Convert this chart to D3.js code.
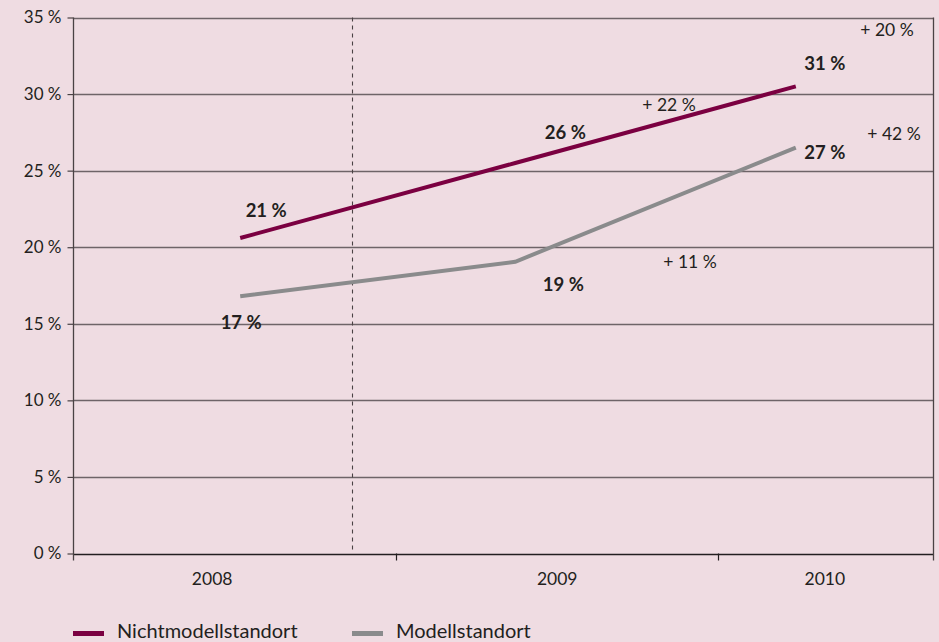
<!DOCTYPE html>
<html>
<head>
<meta charset="utf-8">
<script src="https://cdn.jsdelivr.net/npm/d3@7"></script>
<style>
  html, body { margin: 0; padding: 0; background: #efdce2; }
  svg { display: block; }
  text { font-family: Lato, "Open Sans", sans-serif; fill: #231f20; }
</style>
</head>
<body>
<svg id="chart" width="939" height="642"></svg>
<script>
// ---- data ----
const years = ["2008", "2009", "2010"];
const nichtModell = [20.6, 25.5, 30.5];
const modell = [16.8, 19.05, 26.5];
const nichtModellLabels = ["21 %", "26 %", "31 %"];
const modellLabels = ["17 %", "19 %", "27 %"];
const changeLabels = ["+ 22 %", "+ 20 %", "+ 11 %", "+ 42 %"];
const yTicks = [0, 5, 10, 15, 20, 25, 30, 35];
const seriesNames = ["Nichtmodellstandort", "Modellstandort"];

(function () {
// ---- layout ----
const pLeft = 73.5, pRight = 933.5, pTop = 17.5, pBottom = 553.5;
const colors = ["#7b0041", "#8a8b8c"];
const svg = d3.select("#chart");

// x: continuous "slot" scale, one slot per year (last slot truncated)
const x = d3.scaleLinear().domain([0, 2.667]).range([pLeft, pRight]);
const pointPos = [0.517, 1.37, 2.24];   // where line vertices sit within slots
const labelPos = [0.43, 1.5, 2.33];     // year label positions
const y = d3.scaleLinear().domain([0, 35]).range([pBottom, pTop]);

// gridlines
svg.append("g")
  .selectAll("line").data(yTicks).join("line")
  .attr("x1", pLeft).attr("x2", pRight)
  .attr("y1", d => Math.round(y(d)) + 0.5).attr("y2", d => Math.round(y(d)) + 0.5)
  .attr("stroke", d => d === 0 ? "#231f20" : "#6e6468")
  .attr("stroke-width", 1.3);

// y axis
const yAxis = svg.append("g").attr("transform", `translate(${pLeft},0)`)
  .call(d3.axisLeft(y).tickValues(yTicks).tickSize(6).tickPadding(6)
    .tickFormat(d => d + " %"));
yAxis.select(".domain").remove();
yAxis.selectAll(".tick line").attr("stroke", "#4a4244").attr("stroke-width", 1.2);
yAxis.selectAll(".tick text").attr("font-size", 17).attr("font-family", "Lato, sans-serif").attr("fill", "#231f20");

// left and right vertical frame lines
svg.append("line").attr("x1", pLeft).attr("x2", pLeft).attr("y1", pTop).attr("y2", pBottom + 7)
  .attr("stroke", "#4a4244").attr("stroke-width", 1.3);
svg.append("line").attr("x1", pRight).attr("x2", pRight).attr("y1", pTop).attr("y2", pBottom + 7)
  .attr("stroke", "#4a4244").attr("stroke-width", 1.3);

// x tick marks between year slots
svg.append("g").selectAll("line").data([1, 2]).join("line")
  .attr("x1", d => Math.round(x(d)) + 0.5).attr("x2", d => Math.round(x(d)) + 0.5)
  .attr("y1", pBottom).attr("y2", pBottom + 7)
  .attr("stroke", "#231f20").attr("stroke-width", 1.2);

// year labels
svg.append("g").selectAll("text").data(years).join("text")
  .attr("x", (d, i) => x(labelPos[i])).attr("y", 585)
  .attr("text-anchor", "middle").attr("font-size", 17.5).text(d => d);

// dashed separator
svg.append("line")
  .attr("x1", 352.5).attr("x2", 352.5).attr("y1", pTop).attr("y2", pBottom)
  .attr("stroke", "#4a4244").attr("stroke-width", 1.1).attr("stroke-dasharray", "4,4");

// lines
const line = d3.line().x((d, i) => x(pointPos[i])).y(d => y(d));
[modell, nichtModell].forEach((s, k) => {
  svg.append("path").datum(s).attr("d", line)
    .attr("fill", "none").attr("stroke", k === 0 ? colors[1] : colors[0])
    .attr("stroke-width", 4);
});

// value labels (bold)
const valLab = svg.append("g").attr("font-size", 18.5).attr("font-weight", "bold");
const nmOffsets = [[26, -22], [50, -25], [29, -17]];
const mOffsets = [[1, 33], [48, 29], [29, 11]];
nichtModell.forEach((v, i) => {
  valLab.append("text").attr("x", x(pointPos[i]) + nmOffsets[i][0]).attr("y", y(v) + nmOffsets[i][1] + 1)
    .attr("text-anchor", "middle").attr("font-weight", "bold").text(nichtModellLabels[i]);
});
modell.forEach((v, i) => {
  valLab.append("text").attr("x", x(pointPos[i]) + mOffsets[i][0]).attr("y", y(v) + mOffsets[i][1] + 0)
    .attr("text-anchor", "middle").attr("font-weight", "bold").text(modellLabels[i]);
});

// change labels
const changePos = [[669, 111], [887, 36], [690, 268], [894, 140]];
svg.append("g").selectAll("text").data(changeLabels).join("text")
  .attr("x", (d, i) => changePos[i][0]).attr("y", (d, i) => changePos[i][1])
  .attr("text-anchor", "middle").attr("font-size", 17.5).text(d => d);

// legend
const legendX = [73, 352];
const lg = svg.append("g");
seriesNames.forEach((n, i) => {
  lg.append("rect").attr("x", legendX[i]).attr("y", 631).attr("width", 31).attr("height", 5)
    .attr("fill", colors[i]);
  lg.append("text").attr("x", legendX[i] + 44).attr("y", 638).attr("font-size", 20).text(n);
});
})();
</script>
</body>
</html>
